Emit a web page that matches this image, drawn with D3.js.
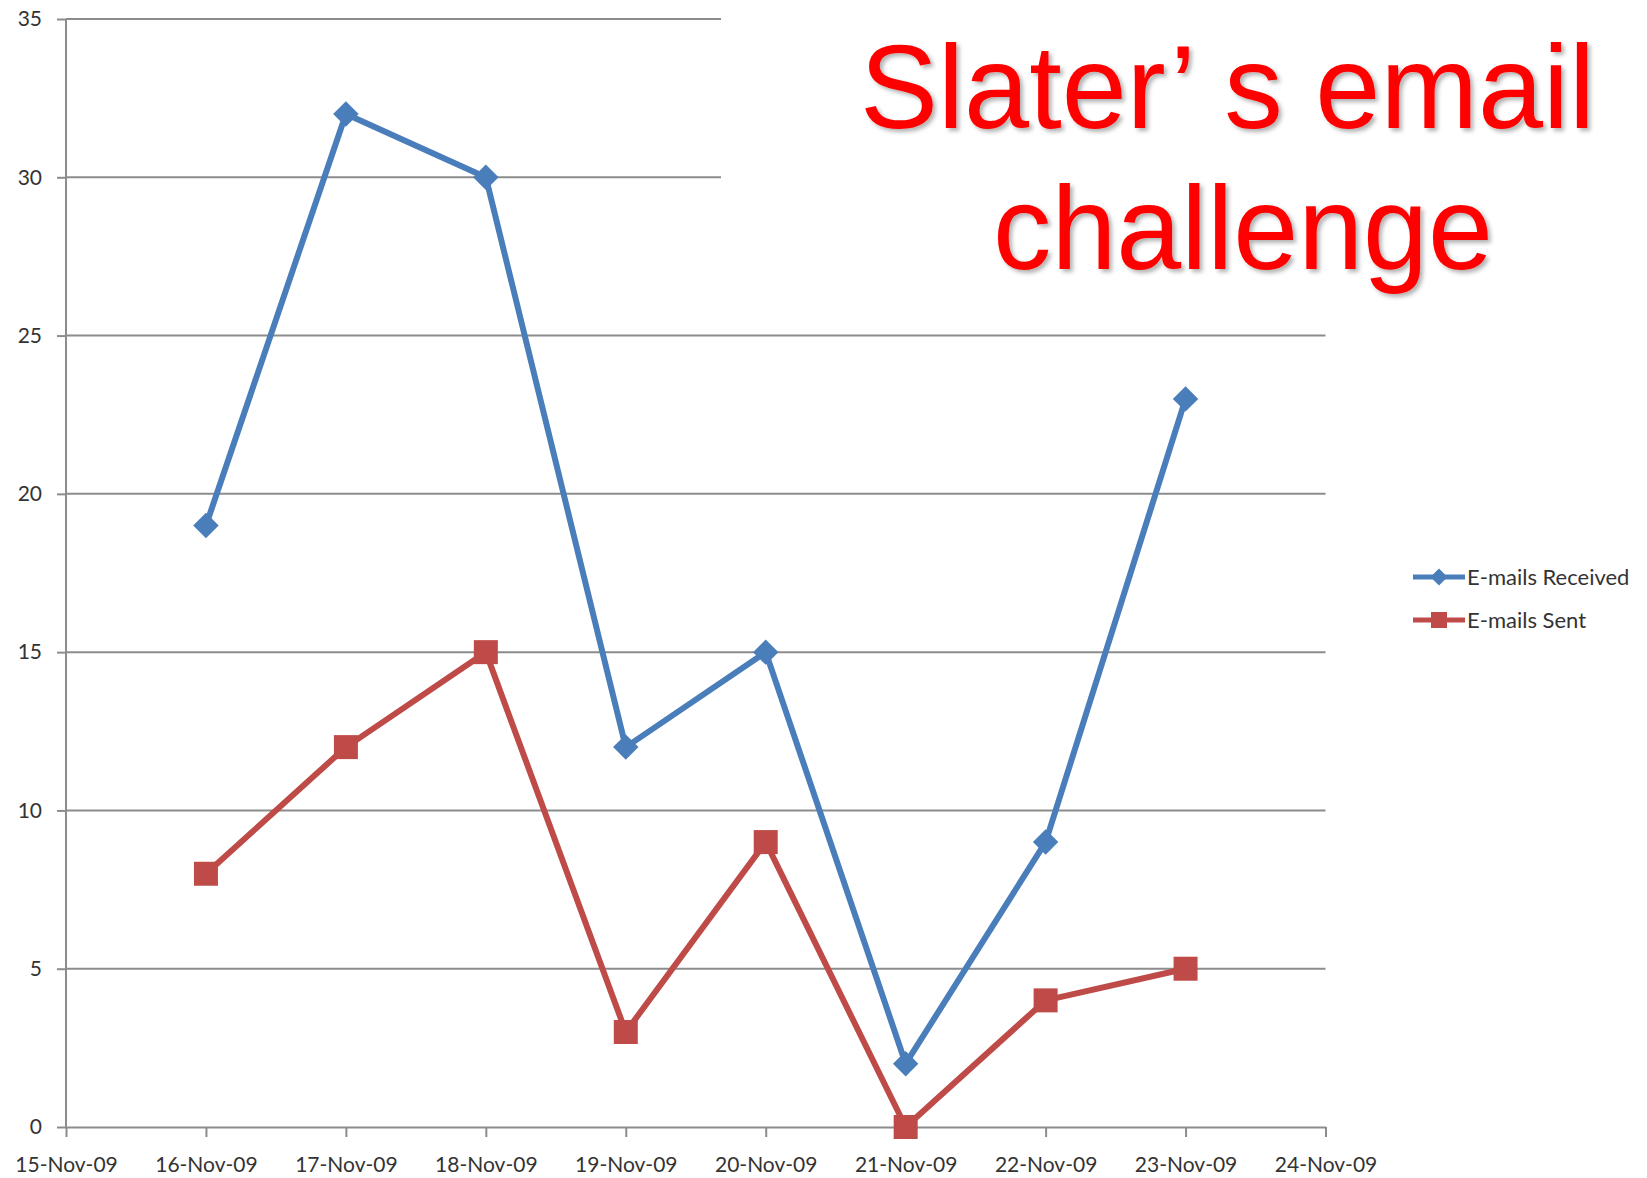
<!DOCTYPE html>
<html>
<head>
<meta charset="utf-8">
<script src="https://cdn.jsdelivr.net/npm/d3@7"></script>
<style>
  html, body { margin: 0; padding: 0; background: #fff; }
  svg { display: block; }
</style>
</head>
<body>
<div id="chart"></div>
<script>
// Daily email counts, 16-Nov-09 .. 23-Nov-09
const days = ['2009-11-16', '2009-11-17', '2009-11-18', '2009-11-19', '2009-11-20', '2009-11-21', '2009-11-22', '2009-11-23'];
const received = [19, 32, 30, 12, 15, 2, 9, 23];
const sent = [8, 12, 15, 3, 9, 0, 4, 5];
const yTicks = [0, 5, 10, 15, 20, 25, 30, 35];
const xDomain = ['2009-11-15', '2009-11-24'];
const seriesNames = ['E-mails Received', 'E-mails Sent'];
const titleLines = ['Slater\u2019 s email', 'challenge'];

const W = 1647, H = 1178;
const margin = { top: 19, right: 321.5, bottom: 51, left: 66 };
const blue = '#4a7ebb', red = '#be4b48';
const gridColor = '#8c8c8c';
const labelFont = 'Lato, "Open Sans", sans-serif';

const parse = d3.utcParse('%Y-%m-%d');
const fmt = d3.utcFormat('%-d-%b-%y');

const svg = d3.select('#chart').append('svg')
  .attr('width', W)
  .attr('height', H)
  .attr('viewBox', `0 0 ${W} ${H}`);

const x = d3.scaleUtc()
  .domain(xDomain.map(parse))
  .range([margin.left, W - margin.right]);

const y = d3.scaleLinear()
  .domain([0, 35])
  .range([H - margin.bottom, margin.top]);

// horizontal gridlines
svg.append('g')
  .selectAll('line')
  .data(yTicks.filter(d => d > 0))
  .join('line')
  .attr('x1', x.range()[0])
  .attr('x2', x.range()[1])
  .attr('y1', d => y(d))
  .attr('y2', d => y(d))
  .attr('stroke', gridColor)
  .attr('stroke-width', 2);

// axes
const yAxis = d3.axisLeft(y).tickValues(yTicks).tickSize(9).tickPadding(15);
const yAxisG = svg.append('g')
  .attr('transform', `translate(${margin.left},0)`)
  .call(yAxis);

const xAxis = d3.axisBottom(x)
  .ticks(d3.utcDay.every(1))
  .tickFormat(fmt)
  .tickSize(10)
  .tickSizeOuter(0)
  .tickPadding(20);
const xAxisG = svg.append('g')
  .attr('transform', `translate(0,${y(0)})`)
  .call(xAxis);

[xAxisG, yAxisG].forEach(g => {
  g.select('.domain').attr('stroke', gridColor).attr('stroke-width', 2);
  g.selectAll('.tick line').attr('stroke', gridColor).attr('stroke-width', 2);
  g.selectAll('text')
    .attr('fill', '#333')
    .style('font-family', labelFont)
    .style('font-size', '21px');
});
yAxisG.select('.domain').attr('d', `M-0,${y(35)}V${y(0)}`);

// white box behind the title hides the top gridlines
svg.append('rect')
  .attr('x', 721)
  .attr('y', 0)
  .attr('width', W - 721)
  .attr('height', 300)
  .attr('fill', '#fff');

// series
const line = d3.line()
  .x((d, i) => x(parse(days[i])))
  .y(d => y(d));

const diamond = d3.symbol().type(d3.symbolSquare).size(18 * 18);
const square = d3.symbol().type(d3.symbolSquare).size(24 * 24);

svg.append('path')
  .datum(received)
  .attr('d', line)
  .attr('fill', 'none')
  .attr('stroke', blue)
  .attr('stroke-width', 6)
  .attr('stroke-linejoin', 'round');

svg.append('path')
  .datum(sent)
  .attr('d', line)
  .attr('fill', 'none')
  .attr('stroke', red)
  .attr('stroke-width', 6)
  .attr('stroke-linejoin', 'round');

svg.append('g')
  .selectAll('path')
  .data(received)
  .join('path')
  .attr('d', diamond)
  .attr('transform', (d, i) => `translate(${x(parse(days[i]))},${y(d)}) rotate(45)`)
  .attr('fill', blue);

svg.append('g')
  .selectAll('path')
  .data(sent)
  .join('path')
  .attr('d', square)
  .attr('transform', (d, i) => `translate(${x(parse(days[i]))},${y(d)})`)
  .attr('fill', red);

// legend
const legend = svg.append('g').attr('transform', 'translate(1413,577)');
const legendItems = [
  { name: seriesNames[0], color: blue, sym: d3.symbol().type(d3.symbolSquare).size(12 * 12), rot: 45 },
  { name: seriesNames[1], color: red, sym: d3.symbol().type(d3.symbolSquare).size(16 * 16), rot: 0 }
];
const li = legend.selectAll('g')
  .data(legendItems)
  .join('g')
  .attr('transform', (d, i) => `translate(0,${i * 43})`);
li.append('line')
  .attr('x1', 0).attr('x2', 52)
  .attr('stroke', d => d.color)
  .attr('stroke-width', 5);
li.append('path')
  .attr('d', d => d.sym())
  .attr('transform', d => `translate(26,0) rotate(${d.rot})`)
  .attr('fill', d => d.color);
li.append('text')
  .attr('x', 54)
  .attr('dy', '0.35em')
  .attr('fill', '#333')
  .style('font-family', labelFont)
  .style('font-size', '22px')
  .text(d => d.name);

// title
const defs = svg.append('defs');
defs.append('filter')
  .attr('id', 'shadow')
  .attr('x', '-10%').attr('y', '-10%')
  .attr('width', '130%').attr('height', '130%')
  .append('feDropShadow')
  .attr('dx', 3).attr('dy', 3)
  .attr('stdDeviation', 2)
  .attr('flood-color', '#000')
  .attr('flood-opacity', 0.3);

const titleG = svg.append('g').attr('filter', 'url(#shadow)');
const titlePos = [
  { x: 860, y: 128, len: 735 },
  { x: 993, y: 269, len: 500 }
];
titleG.selectAll('text')
  .data(titleLines)
  .join('text')
  .attr('x', (d, i) => titlePos[i].x)
  .attr('y', (d, i) => titlePos[i].y)
  .attr('textLength', (d, i) => titlePos[i].len)
  .attr('lengthAdjust', 'spacingAndGlyphs')
  .attr('fill', '#ff0000')
  .style('font-family', '"Liberation Sans", Arial, sans-serif')
  .style('font-size', '119px')
  .text(d => d);
</script>
</body>
</html>
